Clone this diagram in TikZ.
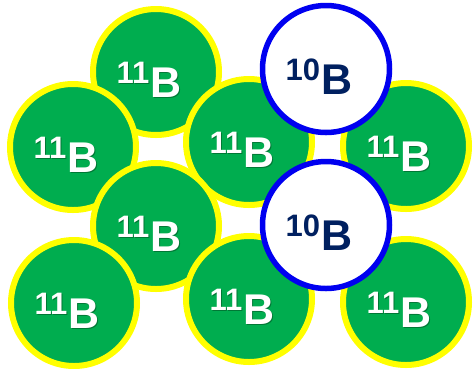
\documentclass[tikz,border=0pt]{standalone}
\usepackage{fontspec}
\setmainfont{Liberation Sans}
\definecolor{ballgreen}{HTML}{00AD4F}
\definecolor{ballyellow}{HTML}{FFFF00}
\definecolor{ballblue}{HTML}{0000F0}
\definecolor{navytext}{HTML}{002060}
\definecolor{shadowgreen}{HTML}{004D20}
\newcommand{\isolabel}[1]{\raisebox{14pt}{\fontsize{31}{31}\selectfont #1}\kern1pt\fontsize{43}{43}\selectfont B}
\tikzset{
  green ball/.style={circle, minimum size=126pt, inner sep=0pt, fill=ballgreen, draw=ballyellow, line width=6pt},
  white ball/.style={circle, minimum size=127pt, inner sep=0pt, fill=white, draw=ballblue, line width=5.5pt},
  elevenlabel/.style={text=white, font=\bfseries, inner sep=0pt},
  elevenshadow/.style={text=shadowgreen, font=\bfseries, inner sep=0pt, opacity=0.55},
  tenlabel/.style={text=navytext, font=\bfseries, inner sep=0pt}
}
\begin{document}
\begin{tikzpicture}[x=1pt,y=-1pt]
\useasboundingbox (0,0) rectangle (474,368);
% green balls
\foreach \n/\x/\y in {ga/156/72, gb/73/147, gc/249/142, gr/406/146, gd/156/226, ge/74/303, gf/249/299, gg/406/302}{
  \node[green ball] (\n) at (\x,\y) {};
  \node[elevenshadow] (\n s) at ([xshift=-6pt,yshift=-9pt]\n.center) {\isolabel{11}};
  \node[elevenlabel] (\n t) at ([xshift=-7pt,yshift=-8pt]\n.center) {\isolabel{11}};
}
% white balls
\foreach \n/\x/\y in {wa/326/69, wb/326/225}{
  \node[white ball] (\n) at (\x,\y) {};
  \node[tenlabel] (\n t) at ([xshift=-7pt,yshift=-8pt]\n.center) {\isolabel{10}};
}
\end{tikzpicture}
\end{document}
